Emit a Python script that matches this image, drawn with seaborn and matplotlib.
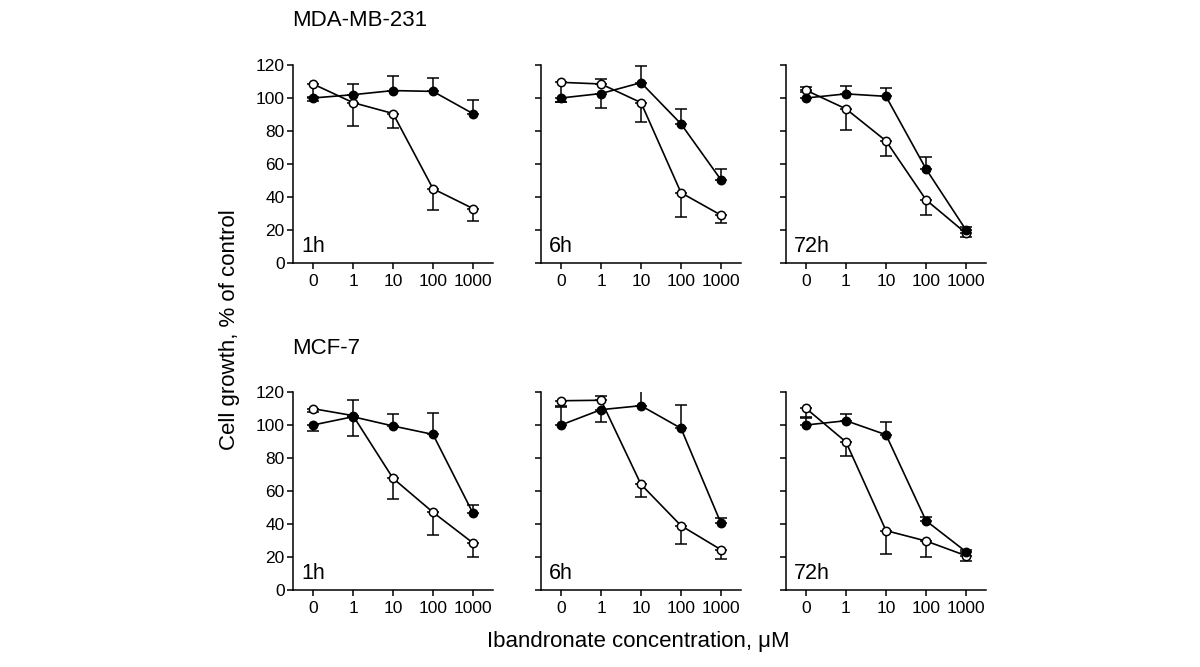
"""
Ibandronate dose-response on MDA-MB-231 and MCF-7 cells
1h / 6h / 72h exposure, filled = one treatment, open = the other
"""

import numpy as np
import pandas as pd
import matplotlib
matplotlib.use('Agg')
import matplotlib.pyplot as plt
import seaborn as sns

# ------------------------------------------------------------
# Data
# ------------------------------------------------------------
concentrations = ["0", "1", "10", "100", "1000"]
time_labels = ["1h", "6h", "72h"]
cell_lines = ["MDA-MB-231", "MCF-7"]

# error values: positive -> bar drawn upwards, negative -> downwards
mda_filled = [[100, 102, 104.5, 104, 90.5],
              [100, 102.7, 109.3, 84.3, 50.4],
              [100, 102.5, 101, 57, 20]]
mda_filled_err = [[-2, 6.5, 9, 8, 8],
                  [-2.5, -8.5, 10, 9.3, 6.5],
                  [6.5, 5, 5, 7, 2]]
mda_open = [[108.5, 97.2, 90.6, 45, 33],
            [109.5, 108.5, 97.2, 42.6, 29],
            [104.7, 93.4, 74, 38.3, 18]]
mda_open_err = [[-8, -14, -9, -12.7, -7.3],
                [-12, 3, -11.5, -14.8, -4.8],
                [-1, -13, -9, -9, -2.3]]

mcf_filled = [[100, 105, 99.4, 94.3, 46.5],
              [100, 109.3, 111.7, 98, 40.4],
              [100, 102.6, 94.1, 42, 23.2]]
mcf_filled_err = [[-3.5, 10, 7.5, 13, 5],
                  [11, -7.3, 9.3, 14, 3.4],
                  [4.5, 4, 7.5, 2.4, 1]]
mcf_open = [[109.9, 105.7, 67.7, 47.1, 28.5],
            [114.7, 115, 64, 39, 24.4],
            [110.1, 89.7, 36, 29.7, 20.8]]
mcf_open_err = [[-2, -12.4, -12.3, -14, -8.3],
                [-3, 2.4, -7.7, -11, -5.6],
                [-5, -8.5, -14, -10, -3.2]]

rows = [(mda_filled, mda_filled_err, mda_open, mda_open_err),
        (mcf_filled, mcf_filled_err, mcf_open, mcf_open_err)]

# ------------------------------------------------------------
# Style
# ------------------------------------------------------------
sns.set_style("ticks")
plt.rcParams['font.family'] = ['Liberation Sans', 'DejaVu Sans']
for key in ['text.color', 'axes.edgecolor', 'axes.labelcolor',
            'xtick.color', 'ytick.color']:
    plt.rcParams[key] = 'black'
plt.rcParams['axes.linewidth'] = 1.1
plt.rcParams['xtick.major.width'] = 1.1
plt.rcParams['ytick.major.width'] = 1.1
plt.rcParams['xtick.major.size'] = 4
plt.rcParams['ytick.major.size'] = 4

W, H = 1200, 667
fig = plt.figure(figsize=(12, 6.67), dpi=100)

lefts = [293, 541, 786]
bottoms = [263, 590]   # pixel y of the zero line
ax_w, ax_h = 200, 198


def draw_series(ax, values, errs, filled):
    x = np.arange(len(concentrations))
    df = pd.DataFrame({"x": x, "y": values})
    face = "black" if filled else "white"
    err = np.array(errs, dtype=float)
    lower = np.where(err < 0, -err, 0)
    upper = np.where(err > 0, err, 0)
    ax.errorbar(x, values, yerr=[lower, upper], fmt="none", ecolor="black",
                elinewidth=1.1, capsize=4, capthick=1.1, zorder=2)
    sns.lineplot(data=df, x="x", y="y", ax=ax, color="black", linewidth=1.2,
                 marker="o", markersize=6, markerfacecolor=face,
                 markeredgecolor="black", markeredgewidth=1.1, zorder=3)


for r, (f_vals, f_err, o_vals, o_err) in enumerate(rows):
    for c in range(3):
        ax = fig.add_axes([lefts[c] / W, 1 - bottoms[r] / H, ax_w / W, ax_h / H])
        draw_series(ax, o_vals[c], o_err[c], filled=False)
        draw_series(ax, f_vals[c], f_err[c], filled=True)
        ax.set_xlim(-0.5, 4.5)
        ax.set_ylim(0, 120)
        ax.set_xticks(range(len(concentrations)))
        ax.set_xticklabels(concentrations, fontsize=12.5)
        ax.set_yticks(range(0, 121, 20))
        if c == 0:
            ax.tick_params(axis="y", labelsize=12.5, pad=2)
        else:
            ax.set_yticklabels([])
        ax.tick_params(axis="x", pad=4)
        ax.set_xlabel("")
        ax.set_ylabel("")
        sns.despine(ax=ax)
        ax.text(0.04, 0.03, time_labels[c], transform=ax.transAxes,
                fontsize=15.5, ha="left", va="bottom")

# row titles
fig.text(292 / W, 1 - 21 / H, cell_lines[0], fontsize=16, ha="left", va="center")
fig.text(292 / W, 1 - 349 / H, cell_lines[1], fontsize=16, ha="left", va="center")

# shared axis labels
fig.text(229 / W, 1 - 330 / H, "Cell growth, % of control", fontsize=16,
         rotation=90, ha="center", va="center")
fig.text(638 / W, 1 - 642 / H, "Ibandronate concentration, μM", fontsize=16,
         ha="center", va="center")

fig.savefig("out.png", dpi=100)
plt.close(fig)
